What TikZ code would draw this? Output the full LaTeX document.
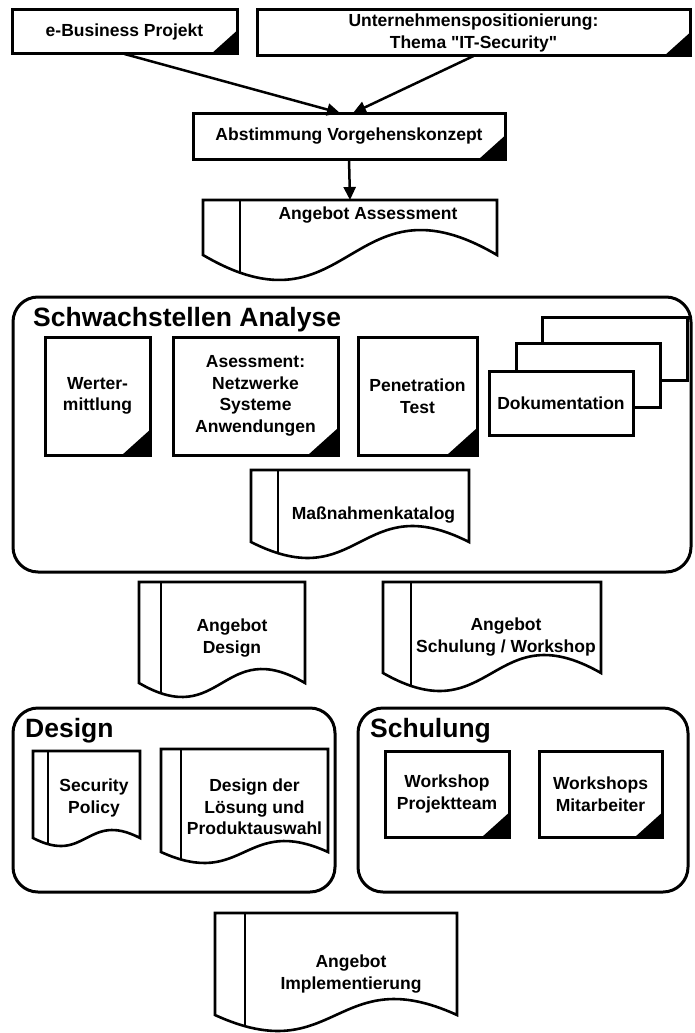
\documentclass[tikz,border=0pt]{standalone}
\usepackage{fontspec}
\setmainfont{Liberation Sans}
\newfontfamily\plainq{Liberation Sans}
\usetikzlibrary{arrows.meta}

% document outline: node, stripe offset, wave amplitude
\newcommand{\docwave}[3]{%
  \begin{scope}
    \clip (#1.north west) -- (#1.north east) -- (#1.south east)
      .. controls ([yshift={3.46*#3pt}]#1.south) and ([yshift={-3.46*#3pt}]#1.south) .. (#1.south west) -- cycle;
    \draw[docline] ([xshift=#2pt]#1.north west) -- ([xshift=#2pt,yshift={-1.6*#3pt}]#1.south west);
  \end{scope}
  \draw[docline] (#1.north west) -- (#1.north east) -- (#1.south east)
    .. controls ([yshift={3.46*#3pt}]#1.south) and ([yshift={-3.46*#3pt}]#1.south) .. (#1.south west) -- cycle;
}

\begin{document}
\begin{tikzpicture}[
  x=1pt, y=-1pt,
  box/.style={draw, line width=3pt, fill=white, inner sep=0pt, outer sep=0pt},
  corner/.style={path picture={\fill[black] ([xshift=-#1]path picture bounding box.south east)
      -- (path picture bounding box.south east)
      -- ([yshift={0.9*#1}]path picture bounding box.south east) -- cycle;}},
  txt/.style={font=\fontsize{17.5}{21.5}\selectfont\bfseries, align=center, inner sep=0pt},
  ttl/.style={font=\fontsize{26.5}{30}\selectfont\bfseries, inner sep=0pt, anchor=base west},
  group/.style={draw, line width=3pt, rounded corners=25pt, inner sep=0pt, outer sep=0pt},
  docbody/.style={inner sep=0pt, outer sep=0pt},
  docline/.style={line width=2.6pt, line join=miter},
  arrow/.style={line width=2.5pt, -{Triangle[length=13pt,width=12pt]}}
]
\fill[white] (0,0) rectangle (695,1033);
\useasboundingbox (0,0) rectangle (695,1033);

% top row
\node[box, txt, corner=26pt, minimum width=225pt, minimum height=44pt] (ebiz) at (124.5,32) {e-Business Projekt};
\node[box, txt, corner=26pt, minimum width=433pt, minimum height=46pt] (untern) at (473.5,33)
  {Unternehmenspositionierung:\\Thema {\plainq"}IT-Security{\plainq"}};
\node[box, txt, corner=26pt, minimum width=312pt, minimum height=46pt] (abst) at (349,136) {Abstimmung Vorgehenskonzept};

\node[docbody, minimum width=294pt, minimum height=55pt] (assess) at (350,227.5) {};
\docwave{assess}{37}{25}
\node[txt] (assesslbl) at (368,215) {Angebot Assessment};

\draw[arrow] (ebiz.south) -- ([xshift=-9pt]abst.north);
\draw[arrow] (untern.south) -- ([xshift=4pt]abst.north);
\draw[arrow] (abst.south) -- (assess.north);

% Schwachstellen Analyse
\node[group, minimum width=678pt, minimum height=275pt] (schwach) at (352,434.5) {};
\node[ttl] (schwachttl) at (33,326.5) {Schwachstellen Analyse};
\node[box, txt, corner=28pt, minimum width=105pt, minimum height=118pt] (werter) at (97.5,396) {Werter-\\mittlung};
\node[box, txt, corner=30pt, minimum width=165pt, minimum height=118pt] (asess) at (255.5,396)
  {Asessment:\\Netzwerke\\Systeme\\Anwendungen};
\node[box, txt, corner=30pt, minimum width=119pt, minimum height=118pt] (pentest) at (417.5,396) {Penetration\\Test};
\node[box, minimum width=145pt, minimum height=63pt] (dokuback) at (614.5,348.5) {};
\node[box, minimum width=144pt, minimum height=64pt] (dokumid) at (588,375) {};
\node[box, txt, minimum width=144pt, minimum height=64pt] (doku) at (561,403) {Dokumentation};

\node[docbody, minimum width=218pt, minimum height=72pt] (massn) at (360,506) {};
\docwave{massn}{27}{16}
\node[txt] (massnlbl) at (373.5,515) {Maßnahmenkatalog};

% Angebote
\node[docbody, minimum width=166pt, minimum height=101pt] (angdesign) at (222,632.5) {};
\docwave{angdesign}{22}{14}
\node[txt] (angdesignlbl) at (232,638) {Angebot\\Design};

\node[docbody, minimum width=218pt, minimum height=91pt] (angschul) at (492,627.5) {};
\docwave{angschul}{28}{18}
\node[txt] (angschullbl) at (506,637) {Angebot\\Schulung / Workshop};

% Design
\node[group, minimum width=322pt, minimum height=184pt] (design) at (174,800) {};
\node[ttl] (designttl) at (25,737.5) {Design};
\node[docbody, minimum width=107pt, minimum height=87pt] (secpol) at (86.5,794.5) {};
\docwave{secpol}{15}{8}
\node[txt] (secpollbl) at (94,798) {Security\\Policy};
\node[docbody, minimum width=167pt, minimum height=103pt] (loesung) at (244.5,800.5) {};
\docwave{loesung}{20}{11}
\node[txt] (loesunglbl) at (254.5,807) {Design der\\Lösung und\\Produktauswahl};

% Schulung
\node[group, minimum width=330pt, minimum height=184pt] (schulung) at (523,800) {};
\node[ttl] (schulungttl) at (370,737.5) {Schulung};
\node[box, txt, corner=27pt, minimum width=124pt, minimum height=86pt] (wsteam) at (447,794) {Workshop\\Projektteam};
\node[box, txt, corner=27pt, minimum width=123pt, minimum height=86pt] (wsma) at (600.5,794) {Workshops\\Mitarbeiter};

% Implementierung
\node[docbody, minimum width=242pt, minimum height=102pt] (implement) at (336,964) {};
\docwave{implement}{30}{16}
\node[txt] (implementlbl) at (351,974) {Angebot\\Implementierung};

\end{tikzpicture}
\end{document}
